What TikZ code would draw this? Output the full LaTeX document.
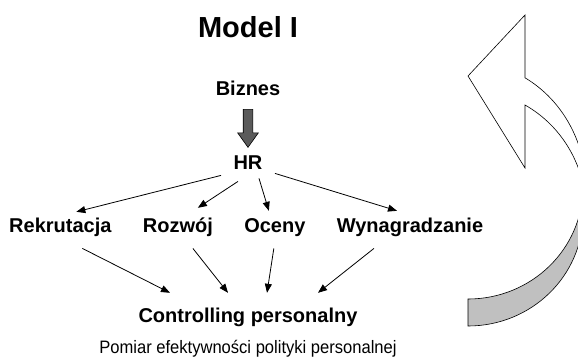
\documentclass[tikz,border=0pt]{standalone}
\usepackage{fontspec}
\setmainfont{Liberation Sans}
\newfontfamily\narrowfont[FakeStretch=0.92]{Liberation Sans}
\usetikzlibrary{positioning,arrows.meta,shapes.arrows}

\definecolor{backgray}{HTML}{C0C0C0}
\definecolor{darkarr}{HTML}{5A5A5A}

\begin{document}
\begin{tikzpicture}
[
    x = 1pt, y = -1pt,
    node distance = 31pt,
    lbl/.style      = {inner sep=0pt,
                       anchor=base,
                       text height=15pt,
                       text depth=4.2pt,
                       font=\fontsize{20}{24}\selectfont\bfseries},
    arr/.style      = {line width=0.8pt,
                       -{Triangle[length=9pt,width=7pt]}},
    blockarr/.style = {single arrow,
                       draw,
                       line width=0.6pt,
                       fill=darkarr,
                       inner sep=4.5pt,
                       minimum height=38pt,
                       minimum width=20pt,
                       single arrow head extend=5.5pt,
                       single arrow tip angle=71,
                       rotate=-90},
    curved/.style   = {draw,
                       line width=0.6pt}
]

\useasboundingbox (0,0) rectangle (578,357);
\clip (0,0) rectangle (578,357);

% curved arrow on the right
\path[curved, fill=backgray]
    (468,299) arc[start angle=-90, end angle=0, x radius=115pt, y radius=112pt]
    -- (583,214)
    arc[start angle=0, end angle=-90, x radius=115pt, y radius=112pt]
    -- cycle;
\path[curved, fill=white]
    (525,15) -- (468,76) -- (525,168) -- (525,105)
    arc[start angle=61.1, end angle=0, x radius=118pt, y radius=121pt]
    -- (586,189)
    arc[start angle=0, end angle=61.1, x radius=118pt, y radius=127pt]
    -- cycle;

\node (title) [inner sep=0pt, anchor=base, font=\fontsize{29}{34}\selectfont\bfseries] at (248,37) {
Model I
};

\node (biz) [lbl] at (248,95) {
Biznes
};

\node (hr) [lbl] at (248,169) {
HR
};

\node (bizarr) [blockarr] at (248,125) {};

\node (rek) [lbl, anchor=base west] at (9,232) {
Rekrutacja
};

\node (roz) [lbl, base right=of rek] {
Rozwój
};

\node (oce) [lbl, base right=of roz] {
Oceny
};

\node (wyn) [lbl, base right=of oce] {
Wynagradzanie
};

\node (con) [lbl] at (248,322) {
Controlling personalny
};

\node (pom) [inner sep=0pt, anchor=base, font=\fontsize{18}{22}\selectfont\narrowfont] at (248,353) {
Pomiar efektywności polityki personalnej
};

\draw[arr] ([xshift=-27pt,yshift=-2pt]hr.south) -- ([xshift=16pt,yshift=5pt]rek.north);
\draw[arr] ([xshift=-10pt,yshift=-8pt]hr.south) -- ([xshift=20pt,yshift=9pt]roz.north);
\draw[arr] ([xshift=11pt,yshift=-5pt]hr.south)  -- ([xshift=-6pt,yshift=6pt]oce.north);
\draw[arr] ([xshift=27pt]hr.south)              -- ([xshift=-13pt,yshift=6pt]wyn.north);

\draw[arr] ([xshift=22pt,yshift=-12pt]rek.south) -- ([xshift=-78pt,yshift=14pt]con.north);
\draw[arr] ([xshift=15pt,yshift=-12pt]roz.south) -- ([xshift=-20pt,yshift=14pt]con.north);
\draw[arr] ([xshift=-1pt,yshift=-12pt]oce.south) -- ([xshift=19pt,yshift=14pt]con.north);
\draw[arr] ([xshift=-36pt,yshift=-12pt]wyn.south) -- ([xshift=70pt,yshift=14pt]con.north);

\end{tikzpicture}
\end{document}
